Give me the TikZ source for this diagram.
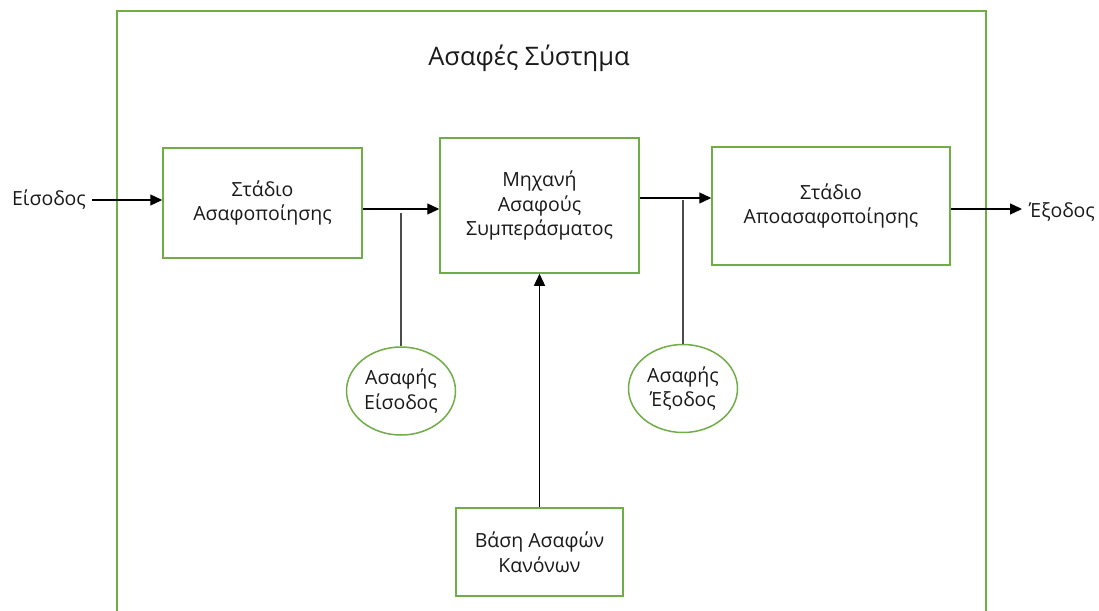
\documentclass[tikz,border=0pt]{standalone}
\usepackage{fontspec}
\setmainfont{Open Sans}
\usetikzlibrary{arrows.meta,shapes.geometric}
\definecolor{officegreen}{HTML}{70AD47}
\definecolor{txt}{HTML}{1A1A1A}
\begin{document}
\begin{tikzpicture}[x=1pt,y=-1pt,
  textstyle/.style={text=txt,font=\fontsize{19.5}{24.5}\selectfont},
  block/.style={textstyle,draw=officegreen,line width=1.5pt,fill=white,
    align=center,inner sep=0pt},
  fuzzy/.style={textstyle,draw=officegreen,line width=1.5pt,ellipse,fill=white,
    align=center,inner sep=0pt,minimum width=109,minimum height=88},
  label/.style={textstyle,inner sep=0pt},
  flow/.style={line width=1.3pt,-{Triangle[length=12pt,width=11pt]}},
  tap/.style={line width=1.3pt,draw=black!70}]
  \useasboundingbox (0,0) rectangle (1099,610);
  % enclosing system frame, open at the bottom
  \draw[officegreen,line width=1.5pt] (117,620) -- (117,11) -- (986,11) -- (986,620);
  \node[text=txt,font=\fontsize{25.5}{30}\selectfont] (title) at (529,58) {Ασαφές Σύστημα};
  % processing stages
  \node[block,minimum width=199,minimum height=110] (fuzz) at (262.5,203) {Στάδιο\\Ασαφοποίησης};
  \node[block,minimum width=199,minimum height=135] (engine) at (539.5,205.5) {Μηχανή\\Ασαφούς\\Συμπεράσματος};
  \node[block,minimum width=238,minimum height=118] (defuzz) at (831,206) {Στάδιο\\Αποασαφοποίησης};
  \node[block,minimum width=167,minimum height=88] (rules) at (539.5,552) {Βάση Ασαφών\\Κανόνων};
  \node[fuzzy] (fin) at (401,391) {Ασαφής\\Είσοδος};
  \node[fuzzy] (fout) at (683,388.5) {Ασαφής\\Έξοδος};
  % external input and output
  \node[label,anchor=east] (in) at (86,200) {Είσοδος};
  \node[label,anchor=west] (out) at (1029,212) {Έξοδος};
  % signal flow
  \draw[flow] (92,200) coordinate (inS) -- (fuzz.west |- inS);
  \draw[flow] (fuzz.east |- 0,209) coordinate (fS) -- (engine.west |- fS);
  \draw[flow] (engine.east |- 0,198) coordinate (eS) -- (defuzz.west |- eS);
  \draw[flow] (defuzz.east |- 0,209) coordinate (dS) -- (1022,209) coordinate (outS);
  \draw[flow] (rules.north) -- (engine.south);
  % fuzzy sets tapped from the signal lines
  \draw[tap] (fin.north) -- (fin.north |- 0,213);
  \draw[tap] (fout.north) -- (fout.north |- 0,200);
\end{tikzpicture}
\end{document}
